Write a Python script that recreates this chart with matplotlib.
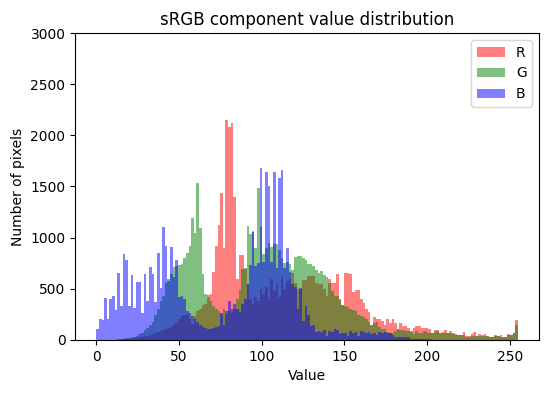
import numpy as np
import matplotlib
matplotlib.use("Agg")
import matplotlib.pyplot as plt

# 160 bins spanning 0..255, counts
bin_edges = np.linspace(0, 255, 161)

red_counts = [
    0, 0, 0, 0, 0, 0, 0, 0, 0, 0, 5, 5, 10, 10, 15,
    20, 25, 30, 35, 40, 50, 60, 70, 80, 90, 100, 110, 120, 130, 150,
    170, 200, 230, 240, 250, 200, 160, 230, 280, 300, 340, 350, 440, 450,
    660, 918, 1124, 1440, 900, 2150, 2080, 2120, 1400, 600, 830, 830, 690,
    550, 400, 350, 420, 380, 500, 450, 520, 400, 600, 480, 550, 420, 620, 500, 580, 600, 650, 560,
    498, 500, 586, 586, 625, 625, 625, 560, 547, 547, 500, 427, 596, 553, 560, 645, 390, 342,
    658, 658, 645, 472, 489, 489, 397, 361,
    300, 274, 150, 225, 205, 205, 190, 150, 205, 163, 205, 163, 110, 166, 137, 137, 120, 90,
    117, 137, 137, 120,
    120, 120, 110, 70, 98, 98, 65, 80, 98, 65, 88, 65, 59, 49, 49, 78, 39, 39, 59, 78, 39, 59,
    49, 55, 39, 30, 26, 49, 39, 46, 26, 26, 59, 49, 68, 195,
]

green_counts = [
    0, 0, 0, 0, 0, 0, 0, 2, 5,
    10, 12, 15, 20, 25, 30, 40, 55, 70, 100, 120, 150, 180, 240, 300, 380,
    430, 560, 600, 640, 716, 720, 735, 740, 800, 850, 922, 1195, 1050, 1530, 1090, 640, 450,
    420, 380, 330, 300, 280, 250, 300, 250, 280, 260, 300, 400, 490, 690, 700,
    1110, 1040, 1060, 900, 1490, 1100, 840, 900, 950, 912, 940, 941, 880, 800, 750, 760, 742, 680, 814,
    821, 821, 801, 782, 740, 743, 720, 684, 650, 674, 635, 615, 560, 480, 430, 430, 400, 342,
    330, 320, 300, 290, 280,
    240, 230, 220, 205, 180, 150, 163, 176, 124, 104, 104, 81, 70, 70, 85, 104, 100, 98, 85,
    90, 78, 55, 88, 65, 65,
    88, 75, 65, 72, 80, 85, 65, 65, 65, 65, 65, 60, 52, 46, 46, 46, 33, 33, 40, 40, 40, 40,
    40, 40, 36, 26, 30, 36, 36, 33, 26, 26, 46, 46, 68, 147,
]

blue_counts = [
    105, 205, 195, 408, 202, 397, 427, 290, 652, 329, 837, 783, 329, 632, 310, 562, 563, 260,
    641, 378, 710, 641, 368, 847, 505,
    1107, 922, 580, 912, 620, 785, 420, 430, 400, 280, 260,
    230, 200, 180, 150, 130, 120, 110, 110, 120, 130, 140, 260, 150, 283, 378, 300, 350, 300,
    270, 350, 400,
    550, 730, 1058, 720, 750, 1680, 760, 1638, 1505, 762, 1641, 703, 1583, 1661, 700, 899, 664,
    550, 520,
    303, 508, 189, 332, 244, 137, 147, 81, 88, 78, 98, 39, 88, 78, 107, 98, 59, 68, 70, 35, 88,
    70, 78, 39, 88, 78, 70,
    78, 59, 68, 46, 78, 65, 81, 65, 70, 52, 33, 29, 26, 33, 26, 26, 13, 13, 10, 10, 10, 7, 7,
    7, 3, 3,
    2, 2, 1, 1, 1, 1, 0, 0, 0, 0, 0, 0, 0, 0, 0, 0, 0, 0, 0, 0, 0, 0, 0, 0, 0, 0, 0, 0, 0, 0, 0,
]

channels = [("R", "r", red_counts), ("G", "g", green_counts), ("B", "b", blue_counts)]

fig = plt.figure(figsize=(5.49, 3.93), dpi=100)
ax = fig.add_axes([0.137, 0.135, 0.845, 0.781])

for label, color, counts in channels:
    ax.hist(bin_edges[:-1], bins=bin_edges, weights=counts, color=color, alpha=0.5, label=label)

ax.set_ylim(0, 3000)
ax.set_xticks([0, 50, 100, 150, 200, 250])
ax.set_title("sRGB component value distribution")
ax.set_xlabel("Value")
ax.set_ylabel("Number of pixels")
ax.legend(loc="upper right")

fig.savefig("out.png", dpi=100)
